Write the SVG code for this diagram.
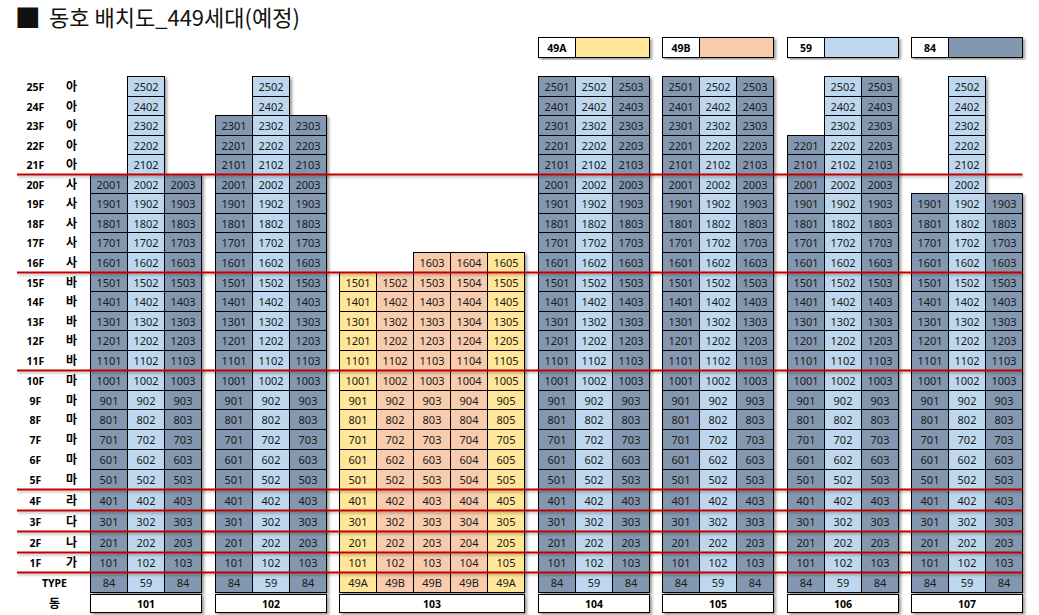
<svg xmlns="http://www.w3.org/2000/svg" width="1039" height="615" viewBox="0 0 1039 615">
<style>
.k84{fill:#8497B0;stroke:#000;stroke-width:1}
.k59{fill:#BDD7EE;stroke:#000;stroke-width:1}
.kA{fill:#FFE699;stroke:#000;stroke-width:1}
.kB{fill:#F8CBAD;stroke:#000;stroke-width:1}
.w{fill:#fff;stroke:#000;stroke-width:1}
.g{fill:none;stroke:#000;stroke-width:1}
.n{font-family:"Noto Sans","Liberation Sans",sans-serif;font-size:11px;text-anchor:middle;fill:#1a1a1a}
.b{font-family:"Noto Sans","Liberation Sans",sans-serif;font-size:10.5px;font-weight:bold;text-anchor:middle;fill:#000}
.k{font-family:"Noto Sans CJK KR","Noto Sans",sans-serif;font-size:12px;font-weight:bold;text-anchor:middle;fill:#000}
.red{stroke:#C00000;stroke-width:2;fill:none}
.title{font-family:"Noto Sans CJK KR","Noto Sans",sans-serif;font-size:22px;fill:#111}
.sq{font-family:"DejaVu Sans",sans-serif;font-size:27px}
</style>
<defs>
<filter id="sh" x="-20%" y="-5%" width="140%" height="115%"><feDropShadow dx="2" dy="2" stdDeviation="1.5" flood-color="#000" flood-opacity="0.4"/></filter>
<filter id="sh2" x="-5%" y="-200%" width="110%" height="600%"><feDropShadow dx="1" dy="2" stdDeviation="1" flood-color="#000" flood-opacity="0.25"/></filter>
</defs>
<rect width="1039" height="615" fill="#fff"/>
<text class="title"><tspan class="sq" x="15" y="25">■</tspan><tspan x="49" y="25.5">동호 배치도_449세대(예정)</tspan></text>

<g id="legend">
<g id="leg49A" transform="translate(538.5 0)"><g filter="url(#sh)"><rect class="w" x="0" y="37.5" width="37" height="20"/><rect class="kA" x="37" y="37.5" width="74" height="20"/></g><text class="b" x="18.5" y="51.5">49A</text></g>
<g id="leg49B" transform="translate(662.5 0)"><g filter="url(#sh)"><rect class="w" x="0" y="37.5" width="37" height="20"/><rect class="kB" x="37" y="37.5" width="74" height="20"/></g><text class="b" x="18.5" y="51.5">49B</text></g>
<g id="leg59" transform="translate(787.5 0)"><g filter="url(#sh)"><rect class="w" x="0" y="37.5" width="37" height="20"/><rect class="k59" x="37" y="37.5" width="74" height="20"/></g><text class="b" x="18.5" y="51.5">59</text></g>
<g id="leg84" transform="translate(911.5 0)"><g filter="url(#sh)"><rect class="w" x="0" y="37.5" width="37" height="20"/><rect class="k84" x="37" y="37.5" width="74" height="20"/></g><text class="b" x="18.5" y="51.5">84</text></g>
</g>

<g id="floor-labels">
<g class="b">
<text x="35.5" y="91">25F</text><text x="35.5" y="110.5">24F</text><text x="35.5" y="130">23F</text><text x="35.5" y="149.5">22F</text><text x="35.5" y="169">21F</text>
<text x="35.5" y="188.5">20F</text><text x="35.5" y="208">19F</text><text x="35.5" y="227.5">18F</text><text x="35.5" y="247">17F</text><text x="35.5" y="267">16F</text>
<text x="35.5" y="286.5">15F</text><text x="35.5" y="306">14F</text><text x="35.5" y="325.5">13F</text><text x="35.5" y="345">12F</text><text x="35.5" y="365">11F</text>
<text x="35.5" y="385">10F</text><text x="35.5" y="404.5">9F</text><text x="35.5" y="424">8F</text><text x="35.5" y="444">7F</text><text x="35.5" y="464">6F</text><text x="35.5" y="484">5F</text>
<text x="35.5" y="504.5">4F</text><text x="35.5" y="525.5">3F</text><text x="35.5" y="546.5">2F</text><text x="35.5" y="567">1F</text>
<text x="54.5" y="587">TYPE</text>
</g>
<g class="k">
<text x="71.5" y="91">아</text><text x="71.5" y="110.5">아</text><text x="71.5" y="130">아</text><text x="71.5" y="149.5">아</text><text x="71.5" y="169">아</text>
<text x="71.5" y="188.5">사</text><text x="71.5" y="208">사</text><text x="71.5" y="227.5">사</text><text x="71.5" y="247">사</text><text x="71.5" y="267">사</text>
<text x="71.5" y="286.5">바</text><text x="71.5" y="306">바</text><text x="71.5" y="325.5">바</text><text x="71.5" y="345">바</text><text x="71.5" y="365">바</text>
<text x="71.5" y="385">마</text><text x="71.5" y="404.5">마</text><text x="71.5" y="424">마</text><text x="71.5" y="444">마</text><text x="71.5" y="464">마</text><text x="71.5" y="484">마</text>
<text x="71.5" y="504.5">라</text><text x="71.5" y="525.5">다</text><text x="71.5" y="546.5">나</text><text x="71.5" y="567">가</text>
<text x="54.5" y="608">동</text>
</g>
</g>

<g id="b101" transform="translate(90.5 0)">
<g filter="url(#sh)">
<rect class="k84" x="0" y="174.5" width="37" height="418"/><rect class="k59" x="37" y="76.5" width="37" height="516"/><rect class="k84" x="74" y="174.5" width="37" height="418"/>
<rect class="w" x="0" y="594.5" width="111" height="18"/>
</g>
<path class="g" d="M37 96.5h37M37 115.5h37M37 135.5h37M37 154.5h37M0 174.5h111M0 193.5h111M0 213.5h111M0 232.5h111M0 252.5h111M0 272.5h111M0 291.5h111M0 311.5h111M0 330.5h111M0 350.5h111M0 370.5h111M0 390.5h111M0 409.5h111M0 429.5h111M0 449.5h111M0 469.5h111M0 489.5h111M0 510.5h111M0 531.5h111M0 552.5h111M0 572.5h111"/>
<g class="n">
<text x="55.5" y="91">2502</text><text x="55.5" y="110.5">2402</text><text x="55.5" y="130">2302</text><text x="55.5" y="149.5">2202</text><text x="55.5" y="169">2102</text>
<text y="188.5"><tspan x="18.5">2001</tspan><tspan x="55.5">2002</tspan><tspan x="92.5">2003</tspan></text>
<text y="208"><tspan x="18.5">1901</tspan><tspan x="55.5">1902</tspan><tspan x="92.5">1903</tspan></text>
<text y="227.5"><tspan x="18.5">1801</tspan><tspan x="55.5">1802</tspan><tspan x="92.5">1803</tspan></text>
<text y="247"><tspan x="18.5">1701</tspan><tspan x="55.5">1702</tspan><tspan x="92.5">1703</tspan></text>
<text y="267"><tspan x="18.5">1601</tspan><tspan x="55.5">1602</tspan><tspan x="92.5">1603</tspan></text>
<text y="286.5"><tspan x="18.5">1501</tspan><tspan x="55.5">1502</tspan><tspan x="92.5">1503</tspan></text>
<text y="306"><tspan x="18.5">1401</tspan><tspan x="55.5">1402</tspan><tspan x="92.5">1403</tspan></text>
<text y="325.5"><tspan x="18.5">1301</tspan><tspan x="55.5">1302</tspan><tspan x="92.5">1303</tspan></text>
<text y="345"><tspan x="18.5">1201</tspan><tspan x="55.5">1202</tspan><tspan x="92.5">1203</tspan></text>
<text y="365"><tspan x="18.5">1101</tspan><tspan x="55.5">1102</tspan><tspan x="92.5">1103</tspan></text>
<text y="385"><tspan x="18.5">1001</tspan><tspan x="55.5">1002</tspan><tspan x="92.5">1003</tspan></text>
<text y="404.5"><tspan x="18.5">901</tspan><tspan x="55.5">902</tspan><tspan x="92.5">903</tspan></text>
<text y="424"><tspan x="18.5">801</tspan><tspan x="55.5">802</tspan><tspan x="92.5">803</tspan></text>
<text y="444"><tspan x="18.5">701</tspan><tspan x="55.5">702</tspan><tspan x="92.5">703</tspan></text>
<text y="464"><tspan x="18.5">601</tspan><tspan x="55.5">602</tspan><tspan x="92.5">603</tspan></text>
<text y="484"><tspan x="18.5">501</tspan><tspan x="55.5">502</tspan><tspan x="92.5">503</tspan></text>
<text y="504.5"><tspan x="18.5">401</tspan><tspan x="55.5">402</tspan><tspan x="92.5">403</tspan></text>
<text y="525.5"><tspan x="18.5">301</tspan><tspan x="55.5">302</tspan><tspan x="92.5">303</tspan></text>
<text y="546.5"><tspan x="18.5">201</tspan><tspan x="55.5">202</tspan><tspan x="92.5">203</tspan></text>
<text y="567"><tspan x="18.5">101</tspan><tspan x="55.5">102</tspan><tspan x="92.5">103</tspan></text>
<text y="587"><tspan x="18.5">84</tspan><tspan x="55.5">59</tspan><tspan x="92.5">84</tspan></text>
</g>
<text class="b" x="55.5" y="607.5">101</text>
</g>

<g id="b102" transform="translate(215.5 0)">
<g filter="url(#sh)">
<rect class="k84" x="0" y="115.5" width="37" height="477"/><rect class="k59" x="37" y="76.5" width="37" height="516"/><rect class="k84" x="74" y="115.5" width="37" height="477"/>
<rect class="w" x="0" y="594.5" width="111" height="18"/>
</g>
<path class="g" d="M37 96.5h37M0 115.5h111M0 135.5h111M0 154.5h111M0 174.5h111M0 193.5h111M0 213.5h111M0 232.5h111M0 252.5h111M0 272.5h111M0 291.5h111M0 311.5h111M0 330.5h111M0 350.5h111M0 370.5h111M0 390.5h111M0 409.5h111M0 429.5h111M0 449.5h111M0 469.5h111M0 489.5h111M0 510.5h111M0 531.5h111M0 552.5h111M0 572.5h111"/>
<g class="n">
<text x="55.5" y="91">2502</text><text x="55.5" y="110.5">2402</text>
<text y="130"><tspan x="18.5">2301</tspan><tspan x="55.5">2302</tspan><tspan x="92.5">2303</tspan></text>
<text y="149.5"><tspan x="18.5">2201</tspan><tspan x="55.5">2202</tspan><tspan x="92.5">2203</tspan></text>
<text y="169"><tspan x="18.5">2101</tspan><tspan x="55.5">2102</tspan><tspan x="92.5">2103</tspan></text>
<text y="188.5"><tspan x="18.5">2001</tspan><tspan x="55.5">2002</tspan><tspan x="92.5">2003</tspan></text>
<text y="208"><tspan x="18.5">1901</tspan><tspan x="55.5">1902</tspan><tspan x="92.5">1903</tspan></text>
<text y="227.5"><tspan x="18.5">1801</tspan><tspan x="55.5">1802</tspan><tspan x="92.5">1803</tspan></text>
<text y="247"><tspan x="18.5">1701</tspan><tspan x="55.5">1702</tspan><tspan x="92.5">1703</tspan></text>
<text y="267"><tspan x="18.5">1601</tspan><tspan x="55.5">1602</tspan><tspan x="92.5">1603</tspan></text>
<text y="286.5"><tspan x="18.5">1501</tspan><tspan x="55.5">1502</tspan><tspan x="92.5">1503</tspan></text>
<text y="306"><tspan x="18.5">1401</tspan><tspan x="55.5">1402</tspan><tspan x="92.5">1403</tspan></text>
<text y="325.5"><tspan x="18.5">1301</tspan><tspan x="55.5">1302</tspan><tspan x="92.5">1303</tspan></text>
<text y="345"><tspan x="18.5">1201</tspan><tspan x="55.5">1202</tspan><tspan x="92.5">1203</tspan></text>
<text y="365"><tspan x="18.5">1101</tspan><tspan x="55.5">1102</tspan><tspan x="92.5">1103</tspan></text>
<text y="385"><tspan x="18.5">1001</tspan><tspan x="55.5">1002</tspan><tspan x="92.5">1003</tspan></text>
<text y="404.5"><tspan x="18.5">901</tspan><tspan x="55.5">902</tspan><tspan x="92.5">903</tspan></text>
<text y="424"><tspan x="18.5">801</tspan><tspan x="55.5">802</tspan><tspan x="92.5">803</tspan></text>
<text y="444"><tspan x="18.5">701</tspan><tspan x="55.5">702</tspan><tspan x="92.5">703</tspan></text>
<text y="464"><tspan x="18.5">601</tspan><tspan x="55.5">602</tspan><tspan x="92.5">603</tspan></text>
<text y="484"><tspan x="18.5">501</tspan><tspan x="55.5">502</tspan><tspan x="92.5">503</tspan></text>
<text y="504.5"><tspan x="18.5">401</tspan><tspan x="55.5">402</tspan><tspan x="92.5">403</tspan></text>
<text y="525.5"><tspan x="18.5">301</tspan><tspan x="55.5">302</tspan><tspan x="92.5">303</tspan></text>
<text y="546.5"><tspan x="18.5">201</tspan><tspan x="55.5">202</tspan><tspan x="92.5">203</tspan></text>
<text y="567"><tspan x="18.5">101</tspan><tspan x="55.5">102</tspan><tspan x="92.5">103</tspan></text>
<text y="587"><tspan x="18.5">84</tspan><tspan x="55.5">59</tspan><tspan x="92.5">84</tspan></text>
</g>
<text class="b" x="55.5" y="607.5">102</text>
</g>

<g id="b103" transform="translate(339.5 0)">
<g filter="url(#sh)">
<rect class="kA" x="0" y="272.5" width="37" height="320"/><rect class="kB" x="37" y="272.5" width="37" height="320"/><rect class="kB" x="74" y="252.5" width="37" height="340"/><rect class="kB" x="111" y="252.5" width="37" height="340"/><rect class="kA" x="148" y="252.5" width="37" height="340"/>
<rect class="w" x="0" y="594.5" width="185" height="18"/>
</g>
<path class="g" d="M0 272.5h185M0 291.5h185M0 311.5h185M0 330.5h185M0 350.5h185M0 370.5h185M0 390.5h185M0 409.5h185M0 429.5h185M0 449.5h185M0 469.5h185M0 489.5h185M0 510.5h185M0 531.5h185M0 552.5h185M0 572.5h185"/>
<g class="n">
<text y="267"><tspan x="92.5">1603</tspan><tspan x="129.5">1604</tspan><tspan x="166.5">1605</tspan></text>
<text y="286.5"><tspan x="18.5">1501</tspan><tspan x="55.5">1502</tspan><tspan x="92.5">1503</tspan><tspan x="129.5">1504</tspan><tspan x="166.5">1505</tspan></text>
<text y="306"><tspan x="18.5">1401</tspan><tspan x="55.5">1402</tspan><tspan x="92.5">1403</tspan><tspan x="129.5">1404</tspan><tspan x="166.5">1405</tspan></text>
<text y="325.5"><tspan x="18.5">1301</tspan><tspan x="55.5">1302</tspan><tspan x="92.5">1303</tspan><tspan x="129.5">1304</tspan><tspan x="166.5">1305</tspan></text>
<text y="345"><tspan x="18.5">1201</tspan><tspan x="55.5">1202</tspan><tspan x="92.5">1203</tspan><tspan x="129.5">1204</tspan><tspan x="166.5">1205</tspan></text>
<text y="365"><tspan x="18.5">1101</tspan><tspan x="55.5">1102</tspan><tspan x="92.5">1103</tspan><tspan x="129.5">1104</tspan><tspan x="166.5">1105</tspan></text>
<text y="385"><tspan x="18.5">1001</tspan><tspan x="55.5">1002</tspan><tspan x="92.5">1003</tspan><tspan x="129.5">1004</tspan><tspan x="166.5">1005</tspan></text>
<text y="404.5"><tspan x="18.5">901</tspan><tspan x="55.5">902</tspan><tspan x="92.5">903</tspan><tspan x="129.5">904</tspan><tspan x="166.5">905</tspan></text>
<text y="424"><tspan x="18.5">801</tspan><tspan x="55.5">802</tspan><tspan x="92.5">803</tspan><tspan x="129.5">804</tspan><tspan x="166.5">805</tspan></text>
<text y="444"><tspan x="18.5">701</tspan><tspan x="55.5">702</tspan><tspan x="92.5">703</tspan><tspan x="129.5">704</tspan><tspan x="166.5">705</tspan></text>
<text y="464"><tspan x="18.5">601</tspan><tspan x="55.5">602</tspan><tspan x="92.5">603</tspan><tspan x="129.5">604</tspan><tspan x="166.5">605</tspan></text>
<text y="484"><tspan x="18.5">501</tspan><tspan x="55.5">502</tspan><tspan x="92.5">503</tspan><tspan x="129.5">504</tspan><tspan x="166.5">505</tspan></text>
<text y="504.5"><tspan x="18.5">401</tspan><tspan x="55.5">402</tspan><tspan x="92.5">403</tspan><tspan x="129.5">404</tspan><tspan x="166.5">405</tspan></text>
<text y="525.5"><tspan x="18.5">301</tspan><tspan x="55.5">302</tspan><tspan x="92.5">303</tspan><tspan x="129.5">304</tspan><tspan x="166.5">305</tspan></text>
<text y="546.5"><tspan x="18.5">201</tspan><tspan x="55.5">202</tspan><tspan x="92.5">203</tspan><tspan x="129.5">204</tspan><tspan x="166.5">205</tspan></text>
<text y="567"><tspan x="18.5">101</tspan><tspan x="55.5">102</tspan><tspan x="92.5">103</tspan><tspan x="129.5">104</tspan><tspan x="166.5">105</tspan></text>
<text y="587"><tspan x="18.5">49A</tspan><tspan x="55.5">49B</tspan><tspan x="92.5">49B</tspan><tspan x="129.5">49B</tspan><tspan x="166.5">49A</tspan></text>
</g>
<text class="b" x="92.5" y="607.5">103</text>
</g>

<g id="b104" transform="translate(538.5 0)">
<g filter="url(#sh)">
<rect class="k84" x="0" y="76.5" width="37" height="516"/><rect class="k59" x="37" y="76.5" width="37" height="516"/><rect class="k84" x="74" y="76.5" width="37" height="516"/>
<rect class="w" x="0" y="594.5" width="111" height="18"/>
</g>
<path class="g" d="M0 96.5h111M0 115.5h111M0 135.5h111M0 154.5h111M0 174.5h111M0 193.5h111M0 213.5h111M0 232.5h111M0 252.5h111M0 272.5h111M0 291.5h111M0 311.5h111M0 330.5h111M0 350.5h111M0 370.5h111M0 390.5h111M0 409.5h111M0 429.5h111M0 449.5h111M0 469.5h111M0 489.5h111M0 510.5h111M0 531.5h111M0 552.5h111M0 572.5h111"/>
<g class="n">
<text y="91"><tspan x="18.5">2501</tspan><tspan x="55.5">2502</tspan><tspan x="92.5">2503</tspan></text>
<text y="110.5"><tspan x="18.5">2401</tspan><tspan x="55.5">2402</tspan><tspan x="92.5">2403</tspan></text>
<text y="130"><tspan x="18.5">2301</tspan><tspan x="55.5">2302</tspan><tspan x="92.5">2303</tspan></text>
<text y="149.5"><tspan x="18.5">2201</tspan><tspan x="55.5">2202</tspan><tspan x="92.5">2203</tspan></text>
<text y="169"><tspan x="18.5">2101</tspan><tspan x="55.5">2102</tspan><tspan x="92.5">2103</tspan></text>
<text y="188.5"><tspan x="18.5">2001</tspan><tspan x="55.5">2002</tspan><tspan x="92.5">2003</tspan></text>
<text y="208"><tspan x="18.5">1901</tspan><tspan x="55.5">1902</tspan><tspan x="92.5">1903</tspan></text>
<text y="227.5"><tspan x="18.5">1801</tspan><tspan x="55.5">1802</tspan><tspan x="92.5">1803</tspan></text>
<text y="247"><tspan x="18.5">1701</tspan><tspan x="55.5">1702</tspan><tspan x="92.5">1703</tspan></text>
<text y="267"><tspan x="18.5">1601</tspan><tspan x="55.5">1602</tspan><tspan x="92.5">1603</tspan></text>
<text y="286.5"><tspan x="18.5">1501</tspan><tspan x="55.5">1502</tspan><tspan x="92.5">1503</tspan></text>
<text y="306"><tspan x="18.5">1401</tspan><tspan x="55.5">1402</tspan><tspan x="92.5">1403</tspan></text>
<text y="325.5"><tspan x="18.5">1301</tspan><tspan x="55.5">1302</tspan><tspan x="92.5">1303</tspan></text>
<text y="345"><tspan x="18.5">1201</tspan><tspan x="55.5">1202</tspan><tspan x="92.5">1203</tspan></text>
<text y="365"><tspan x="18.5">1101</tspan><tspan x="55.5">1102</tspan><tspan x="92.5">1103</tspan></text>
<text y="385"><tspan x="18.5">1001</tspan><tspan x="55.5">1002</tspan><tspan x="92.5">1003</tspan></text>
<text y="404.5"><tspan x="18.5">901</tspan><tspan x="55.5">902</tspan><tspan x="92.5">903</tspan></text>
<text y="424"><tspan x="18.5">801</tspan><tspan x="55.5">802</tspan><tspan x="92.5">803</tspan></text>
<text y="444"><tspan x="18.5">701</tspan><tspan x="55.5">702</tspan><tspan x="92.5">703</tspan></text>
<text y="464"><tspan x="18.5">601</tspan><tspan x="55.5">602</tspan><tspan x="92.5">603</tspan></text>
<text y="484"><tspan x="18.5">501</tspan><tspan x="55.5">502</tspan><tspan x="92.5">503</tspan></text>
<text y="504.5"><tspan x="18.5">401</tspan><tspan x="55.5">402</tspan><tspan x="92.5">403</tspan></text>
<text y="525.5"><tspan x="18.5">301</tspan><tspan x="55.5">302</tspan><tspan x="92.5">303</tspan></text>
<text y="546.5"><tspan x="18.5">201</tspan><tspan x="55.5">202</tspan><tspan x="92.5">203</tspan></text>
<text y="567"><tspan x="18.5">101</tspan><tspan x="55.5">102</tspan><tspan x="92.5">103</tspan></text>
<text y="587"><tspan x="18.5">84</tspan><tspan x="55.5">59</tspan><tspan x="92.5">84</tspan></text>
</g>
<text class="b" x="55.5" y="607.5">104</text>
</g>

<g id="b105" transform="translate(662.5 0)">
<g filter="url(#sh)">
<rect class="k84" x="0" y="76.5" width="37" height="516"/><rect class="k59" x="37" y="76.5" width="37" height="516"/><rect class="k84" x="74" y="76.5" width="37" height="516"/>
<rect class="w" x="0" y="594.5" width="111" height="18"/>
</g>
<path class="g" d="M0 96.5h111M0 115.5h111M0 135.5h111M0 154.5h111M0 174.5h111M0 193.5h111M0 213.5h111M0 232.5h111M0 252.5h111M0 272.5h111M0 291.5h111M0 311.5h111M0 330.5h111M0 350.5h111M0 370.5h111M0 390.5h111M0 409.5h111M0 429.5h111M0 449.5h111M0 469.5h111M0 489.5h111M0 510.5h111M0 531.5h111M0 552.5h111M0 572.5h111"/>
<g class="n">
<text y="91"><tspan x="18.5">2501</tspan><tspan x="55.5">2502</tspan><tspan x="92.5">2503</tspan></text>
<text y="110.5"><tspan x="18.5">2401</tspan><tspan x="55.5">2402</tspan><tspan x="92.5">2403</tspan></text>
<text y="130"><tspan x="18.5">2301</tspan><tspan x="55.5">2302</tspan><tspan x="92.5">2303</tspan></text>
<text y="149.5"><tspan x="18.5">2201</tspan><tspan x="55.5">2202</tspan><tspan x="92.5">2203</tspan></text>
<text y="169"><tspan x="18.5">2101</tspan><tspan x="55.5">2102</tspan><tspan x="92.5">2103</tspan></text>
<text y="188.5"><tspan x="18.5">2001</tspan><tspan x="55.5">2002</tspan><tspan x="92.5">2003</tspan></text>
<text y="208"><tspan x="18.5">1901</tspan><tspan x="55.5">1902</tspan><tspan x="92.5">1903</tspan></text>
<text y="227.5"><tspan x="18.5">1801</tspan><tspan x="55.5">1802</tspan><tspan x="92.5">1803</tspan></text>
<text y="247"><tspan x="18.5">1701</tspan><tspan x="55.5">1702</tspan><tspan x="92.5">1703</tspan></text>
<text y="267"><tspan x="18.5">1601</tspan><tspan x="55.5">1602</tspan><tspan x="92.5">1603</tspan></text>
<text y="286.5"><tspan x="18.5">1501</tspan><tspan x="55.5">1502</tspan><tspan x="92.5">1503</tspan></text>
<text y="306"><tspan x="18.5">1401</tspan><tspan x="55.5">1402</tspan><tspan x="92.5">1403</tspan></text>
<text y="325.5"><tspan x="18.5">1301</tspan><tspan x="55.5">1302</tspan><tspan x="92.5">1303</tspan></text>
<text y="345"><tspan x="18.5">1201</tspan><tspan x="55.5">1202</tspan><tspan x="92.5">1203</tspan></text>
<text y="365"><tspan x="18.5">1101</tspan><tspan x="55.5">1102</tspan><tspan x="92.5">1103</tspan></text>
<text y="385"><tspan x="18.5">1001</tspan><tspan x="55.5">1002</tspan><tspan x="92.5">1003</tspan></text>
<text y="404.5"><tspan x="18.5">901</tspan><tspan x="55.5">902</tspan><tspan x="92.5">903</tspan></text>
<text y="424"><tspan x="18.5">801</tspan><tspan x="55.5">802</tspan><tspan x="92.5">803</tspan></text>
<text y="444"><tspan x="18.5">701</tspan><tspan x="55.5">702</tspan><tspan x="92.5">703</tspan></text>
<text y="464"><tspan x="18.5">601</tspan><tspan x="55.5">602</tspan><tspan x="92.5">603</tspan></text>
<text y="484"><tspan x="18.5">501</tspan><tspan x="55.5">502</tspan><tspan x="92.5">503</tspan></text>
<text y="504.5"><tspan x="18.5">401</tspan><tspan x="55.5">402</tspan><tspan x="92.5">403</tspan></text>
<text y="525.5"><tspan x="18.5">301</tspan><tspan x="55.5">302</tspan><tspan x="92.5">303</tspan></text>
<text y="546.5"><tspan x="18.5">201</tspan><tspan x="55.5">202</tspan><tspan x="92.5">203</tspan></text>
<text y="567"><tspan x="18.5">101</tspan><tspan x="55.5">102</tspan><tspan x="92.5">103</tspan></text>
<text y="587"><tspan x="18.5">84</tspan><tspan x="55.5">59</tspan><tspan x="92.5">84</tspan></text>
</g>
<text class="b" x="55.5" y="607.5">105</text>
</g>

<g id="b106" transform="translate(787.5 0)">
<g filter="url(#sh)">
<rect class="k84" x="0" y="135.5" width="37" height="457"/><rect class="k59" x="37" y="76.5" width="37" height="516"/><rect class="k84" x="74" y="76.5" width="37" height="516"/>
<rect class="w" x="0" y="594.5" width="111" height="18"/>
</g>
<path class="g" d="M37 96.5h74M37 115.5h74M0 135.5h111M0 154.5h111M0 174.5h111M0 193.5h111M0 213.5h111M0 232.5h111M0 252.5h111M0 272.5h111M0 291.5h111M0 311.5h111M0 330.5h111M0 350.5h111M0 370.5h111M0 390.5h111M0 409.5h111M0 429.5h111M0 449.5h111M0 469.5h111M0 489.5h111M0 510.5h111M0 531.5h111M0 552.5h111M0 572.5h111"/>
<g class="n">
<text y="91"><tspan x="55.5">2502</tspan><tspan x="92.5">2503</tspan></text>
<text y="110.5"><tspan x="55.5">2402</tspan><tspan x="92.5">2403</tspan></text>
<text y="130"><tspan x="55.5">2302</tspan><tspan x="92.5">2303</tspan></text>
<text y="149.5"><tspan x="18.5">2201</tspan><tspan x="55.5">2202</tspan><tspan x="92.5">2203</tspan></text>
<text y="169"><tspan x="18.5">2101</tspan><tspan x="55.5">2102</tspan><tspan x="92.5">2103</tspan></text>
<text y="188.5"><tspan x="18.5">2001</tspan><tspan x="55.5">2002</tspan><tspan x="92.5">2003</tspan></text>
<text y="208"><tspan x="18.5">1901</tspan><tspan x="55.5">1902</tspan><tspan x="92.5">1903</tspan></text>
<text y="227.5"><tspan x="18.5">1801</tspan><tspan x="55.5">1802</tspan><tspan x="92.5">1803</tspan></text>
<text y="247"><tspan x="18.5">1701</tspan><tspan x="55.5">1702</tspan><tspan x="92.5">1703</tspan></text>
<text y="267"><tspan x="18.5">1601</tspan><tspan x="55.5">1602</tspan><tspan x="92.5">1603</tspan></text>
<text y="286.5"><tspan x="18.5">1501</tspan><tspan x="55.5">1502</tspan><tspan x="92.5">1503</tspan></text>
<text y="306"><tspan x="18.5">1401</tspan><tspan x="55.5">1402</tspan><tspan x="92.5">1403</tspan></text>
<text y="325.5"><tspan x="18.5">1301</tspan><tspan x="55.5">1302</tspan><tspan x="92.5">1303</tspan></text>
<text y="345"><tspan x="18.5">1201</tspan><tspan x="55.5">1202</tspan><tspan x="92.5">1203</tspan></text>
<text y="365"><tspan x="18.5">1101</tspan><tspan x="55.5">1102</tspan><tspan x="92.5">1103</tspan></text>
<text y="385"><tspan x="18.5">1001</tspan><tspan x="55.5">1002</tspan><tspan x="92.5">1003</tspan></text>
<text y="404.5"><tspan x="18.5">901</tspan><tspan x="55.5">902</tspan><tspan x="92.5">903</tspan></text>
<text y="424"><tspan x="18.5">801</tspan><tspan x="55.5">802</tspan><tspan x="92.5">803</tspan></text>
<text y="444"><tspan x="18.5">701</tspan><tspan x="55.5">702</tspan><tspan x="92.5">703</tspan></text>
<text y="464"><tspan x="18.5">601</tspan><tspan x="55.5">602</tspan><tspan x="92.5">603</tspan></text>
<text y="484"><tspan x="18.5">501</tspan><tspan x="55.5">502</tspan><tspan x="92.5">503</tspan></text>
<text y="504.5"><tspan x="18.5">401</tspan><tspan x="55.5">402</tspan><tspan x="92.5">403</tspan></text>
<text y="525.5"><tspan x="18.5">301</tspan><tspan x="55.5">302</tspan><tspan x="92.5">303</tspan></text>
<text y="546.5"><tspan x="18.5">201</tspan><tspan x="55.5">202</tspan><tspan x="92.5">203</tspan></text>
<text y="567"><tspan x="18.5">101</tspan><tspan x="55.5">102</tspan><tspan x="92.5">103</tspan></text>
<text y="587"><tspan x="18.5">84</tspan><tspan x="55.5">59</tspan><tspan x="92.5">84</tspan></text>
</g>
<text class="b" x="55.5" y="607.5">106</text>
</g>

<g id="b107" transform="translate(911.5 0)">
<g filter="url(#sh)">
<rect class="k84" x="0" y="193.5" width="37" height="399"/><rect class="k59" x="37" y="76.5" width="37" height="516"/><rect class="k84" x="74" y="193.5" width="37" height="399"/>
<rect class="w" x="0" y="594.5" width="111" height="18"/>
</g>
<path class="g" d="M37 96.5h37M37 115.5h37M37 135.5h37M37 154.5h37M37 174.5h37M0 193.5h111M0 213.5h111M0 232.5h111M0 252.5h111M0 272.5h111M0 291.5h111M0 311.5h111M0 330.5h111M0 350.5h111M0 370.5h111M0 390.5h111M0 409.5h111M0 429.5h111M0 449.5h111M0 469.5h111M0 489.5h111M0 510.5h111M0 531.5h111M0 552.5h111M0 572.5h111"/>
<g class="n">
<text x="55.5" y="91">2502</text><text x="55.5" y="110.5">2402</text><text x="55.5" y="130">2302</text><text x="55.5" y="149.5">2202</text><text x="55.5" y="169">2102</text><text x="55.5" y="188.5">2002</text>
<text y="208"><tspan x="18.5">1901</tspan><tspan x="55.5">1902</tspan><tspan x="92.5">1903</tspan></text>
<text y="227.5"><tspan x="18.5">1801</tspan><tspan x="55.5">1802</tspan><tspan x="92.5">1803</tspan></text>
<text y="247"><tspan x="18.5">1701</tspan><tspan x="55.5">1702</tspan><tspan x="92.5">1703</tspan></text>
<text y="267"><tspan x="18.5">1601</tspan><tspan x="55.5">1602</tspan><tspan x="92.5">1603</tspan></text>
<text y="286.5"><tspan x="18.5">1501</tspan><tspan x="55.5">1502</tspan><tspan x="92.5">1503</tspan></text>
<text y="306"><tspan x="18.5">1401</tspan><tspan x="55.5">1402</tspan><tspan x="92.5">1403</tspan></text>
<text y="325.5"><tspan x="18.5">1301</tspan><tspan x="55.5">1302</tspan><tspan x="92.5">1303</tspan></text>
<text y="345"><tspan x="18.5">1201</tspan><tspan x="55.5">1202</tspan><tspan x="92.5">1203</tspan></text>
<text y="365"><tspan x="18.5">1101</tspan><tspan x="55.5">1102</tspan><tspan x="92.5">1103</tspan></text>
<text y="385"><tspan x="18.5">1001</tspan><tspan x="55.5">1002</tspan><tspan x="92.5">1003</tspan></text>
<text y="404.5"><tspan x="18.5">901</tspan><tspan x="55.5">902</tspan><tspan x="92.5">903</tspan></text>
<text y="424"><tspan x="18.5">801</tspan><tspan x="55.5">802</tspan><tspan x="92.5">803</tspan></text>
<text y="444"><tspan x="18.5">701</tspan><tspan x="55.5">702</tspan><tspan x="92.5">703</tspan></text>
<text y="464"><tspan x="18.5">601</tspan><tspan x="55.5">602</tspan><tspan x="92.5">603</tspan></text>
<text y="484"><tspan x="18.5">501</tspan><tspan x="55.5">502</tspan><tspan x="92.5">503</tspan></text>
<text y="504.5"><tspan x="18.5">401</tspan><tspan x="55.5">402</tspan><tspan x="92.5">403</tspan></text>
<text y="525.5"><tspan x="18.5">301</tspan><tspan x="55.5">302</tspan><tspan x="92.5">303</tspan></text>
<text y="546.5"><tspan x="18.5">201</tspan><tspan x="55.5">202</tspan><tspan x="92.5">203</tspan></text>
<text y="567"><tspan x="18.5">101</tspan><tspan x="55.5">102</tspan><tspan x="92.5">103</tspan></text>
<text y="587"><tspan x="18.5">84</tspan><tspan x="55.5">59</tspan><tspan x="92.5">84</tspan></text>
</g>
<text class="b" x="55.5" y="607.5">107</text>
</g>

<g id="connectors" filter="url(#sh2)">
<path class="red" d="M17 174.5H1022.5M17 272.5H1022.5M17 370.5H1022.5M17 489.5H1022.5M17 510.5H1022.5M17 531.5H1022.5M17 552.5H1022.5M17 572.5H1022.5"/>
</g>
</svg>
